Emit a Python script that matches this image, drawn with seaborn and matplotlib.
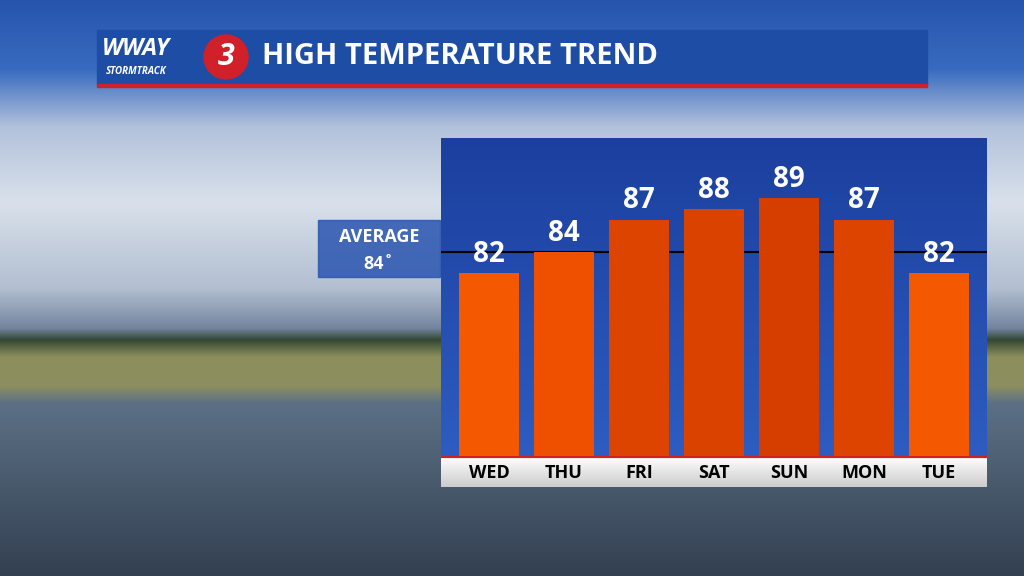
import numpy as np
import pandas as pd
import matplotlib
matplotlib.use("Agg")
from matplotlib import pyplot as plt
from matplotlib.patches import Rectangle, Ellipse
import seaborn as sns

# chart data
days = ["WED", "THU", "FRI", "SAT", "SUN", "MON", "TUE"]
highs = [82, 84, 87, 88, 89, 87, 82]
average = 84
bar_colors = ["#F45800", "#EE5000", "#DC4400", "#DA4200", "#D63E00", "#DC4400", "#F45800"]

sns.set_style("white")
plt.rcParams["font.family"] = ["Open Sans", "DejaVu Sans"]

fig = plt.figure(figsize=(10.24, 5.76), dpi=100)

# background: sky, clouds, marsh, water (smooth vertical blend)
bg = fig.add_axes([0, 0, 1, 1])
stops = [0.0, 0.12, 0.22, 0.35, 0.5, 0.57, 0.59, 0.62, 0.67, 0.70, 1.0]
cols = np.array([
    [0.15, 0.33, 0.68], [0.22, 0.42, 0.75], [0.70, 0.76, 0.86], [0.85, 0.88, 0.92],
    [0.70, 0.75, 0.82], [0.45, 0.52, 0.62], [0.20, 0.28, 0.20], [0.55, 0.56, 0.36],
    [0.55, 0.56, 0.38], [0.36, 0.44, 0.52], [0.20, 0.25, 0.32]])
t = np.linspace(0, 1, 576)
rows = np.stack([np.interp(t, stops, cols[:, k]) for k in range(3)], axis=-1)[:, None, :]
bg.imshow(rows, aspect="auto", extent=[0, 1, 0, 1])
bg.set_axis_off()

# title banner
bg.add_patch(Rectangle((97 / 1024, 1 - 85 / 576), 830 / 1024, 55 / 576, color="#1E4DA6", zorder=3))
bg.add_patch(Rectangle((97 / 1024, 1 - 87 / 576), 830 / 1024, 3 / 576, color="#D0202A", zorder=4))
bg.text(262 / 1024, 1 - 57 / 576, "HIGH TEMPERATURE TREND", color="white", fontsize=21,
        fontweight="bold", va="center", zorder=5)
bg.text(102 / 1024, 1 - 49 / 576, "WWAY", color="white", fontsize=17, fontweight="bold",
        fontstyle="italic", va="center", zorder=5)
bg.text(106 / 1024, 1 - 71 / 576, "STORMTRACK", color="white", fontsize=7, fontweight="bold",
        fontstyle="italic", va="center", zorder=5)
bg.add_patch(Ellipse((226 / 1024, 1 - 57 / 576), 44 / 1024, 44 / 576, color="#D0202A", zorder=5))
bg.text(226 / 1024, 1 - 57 / 576, "3", color="white", fontsize=22, fontweight="bold",
        fontstyle="italic", ha="center", va="center", zorder=6)

# average box
bg.add_patch(Rectangle((318 / 1024, 1 - 277 / 576), 122 / 1024, 57 / 576, color="#2A55B0",
                       alpha=0.85, zorder=3))
bg.text(379 / 1024, 1 - 237 / 576, "AVERAGE", color="white", fontsize=13, fontweight="bold",
        ha="center", va="center", zorder=5)
bg.text(379 / 1024, 1 - 264 / 576, f"{average}˚", color="white", fontsize=13, fontweight="bold",
        ha="center", va="center", zorder=5)
bg.set_xlim(0, 1)
bg.set_ylim(0, 1)

# main chart
ax = fig.add_axes([441 / 1024, 120 / 576, 546 / 1024, 318 / 576])
grad = np.linspace(0, 1, 256).reshape(-1, 1)
ax.imshow(grad, cmap=sns.blend_palette(["#1B3F9E", "#2E5CC0"], as_cmap=True), aspect="auto",
          extent=[-0.64, 6.64, 65, 94.6], zorder=0, origin="upper")
df = pd.DataFrame({"day": days, "high": highs})
sns.barplot(data=df, x="day", y="high", hue="day", palette=bar_colors, width=0.8,
            legend=False, ax=ax, zorder=2, saturation=1, linewidth=0)
ax.axhline(average, color="black", lw=1.5, zorder=1)
for i, v in enumerate(highs):
    ax.text(i, v + 0.4, str(v), color="white", fontsize=20, fontweight="bold",
            ha="center", va="bottom", zorder=3)
ax.set_xlim(-0.64, 6.64)
ax.set_ylim(65, 94.6)
ax.set_axis_off()

# day label strip
lab = fig.add_axes([441 / 1024, 89 / 576, 546 / 1024, 31 / 576])
lab.imshow(np.linspace(1, 0.8, 64).reshape(-1, 1), cmap="gray", vmin=0, vmax=1, aspect="auto",
           extent=[-0.64, 6.64, 0, 1])
lab.axhline(1, color="#D0202A", lw=3)
for i, d in enumerate(days):
    lab.text(i, 0.45, d, color="black", fontsize=13, fontweight="bold", ha="center", va="center")
lab.set_xlim(-0.64, 6.64)
lab.set_ylim(0, 1)
lab.set_axis_off()

fig.savefig("out.png", dpi=100)
